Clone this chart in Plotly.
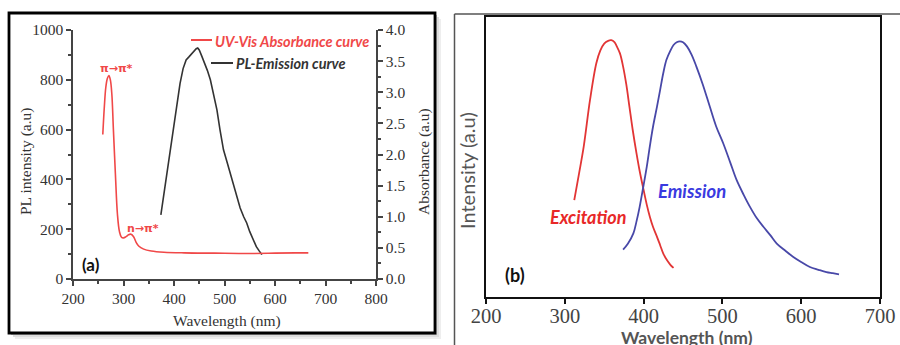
import plotly.graph_objects as go

# ---------------- Panel (a) data ----------------
uv_wl = [259, 262, 265, 268, 271, 274, 277, 280, 284, 288, 292, 296, 300, 305, 310, 315, 320, 325,
         330, 340, 355, 380, 420, 480, 550, 600, 640, 666]
uv_abs = [2.32, 2.76, 3.08, 3.22, 3.27, 3.2, 2.96, 2.4, 1.68, 1.04, 0.76, 0.67, 0.66, 0.68, 0.71,
          0.72, 0.68, 0.59, 0.53, 0.48, 0.45, 0.43, 0.42, 0.415, 0.41, 0.415, 0.42, 0.42]

pl_wl = [374, 380, 386, 392, 399, 405, 412, 418, 424, 430, 435, 440, 444, 447, 450, 455, 460, 466,
         472, 478, 485, 491, 498, 505, 511, 518, 524, 531, 538, 544, 550, 557, 563, 569, 574]
pl_int = [258, 340, 425, 520, 612, 700, 786, 845, 880, 893, 906, 915, 925, 928, 920, 895, 870, 838,
          800, 740, 679, 600, 519, 470, 425, 380, 332, 285, 250, 225, 190, 158, 130, 112, 98]

a_xticks = [200, 300, 400, 500, 600, 700, 800]
a_yticks = [0, 200, 400, 600, 800, 1000]
a_y2ticks = [0.0, 0.5, 1.0, 1.5, 2.0, 2.5, 3.0, 3.5, 4.0]

# ---------------- Panel (b) data ----------------
exc_wl = [312, 318, 324, 332, 340, 345, 350, 355, 359, 363, 366, 370, 374, 378, 382, 386, 391, 395,
          400, 404, 408, 412, 417, 421, 425, 430, 434, 438]
exc_int = [0.346, 0.44, 0.537, 0.704, 0.835, 0.88, 0.905, 0.915, 0.917, 0.91, 0.895, 0.87, 0.823,
           0.76, 0.68, 0.6, 0.513, 0.45, 0.382, 0.33, 0.286, 0.25, 0.215, 0.185, 0.155, 0.13, 0.115, 0.104]

em_wl = [374, 380, 387, 391, 395, 400, 404, 408, 412, 417, 421, 425, 429, 434, 438, 442, 446, 450,
         455, 461, 467, 475, 484, 492, 501, 510, 518, 527, 535, 544, 552, 561, 569, 580, 590, 600,
         611, 622, 632, 640, 648]
em_int = [0.169, 0.19, 0.227, 0.27, 0.322, 0.4, 0.465, 0.54, 0.609, 0.68, 0.74, 0.8, 0.847, 0.88,
          0.9, 0.91, 0.913, 0.91, 0.895, 0.865, 0.823, 0.76, 0.68, 0.61, 0.549, 0.48, 0.418, 0.365,
          0.322, 0.28, 0.251, 0.22, 0.191, 0.165, 0.143, 0.125, 0.107, 0.097, 0.089, 0.085, 0.081]

b_xticks = [200, 300, 400, 500, 600, 700]

W, H = 900, 345
def px(x):
    return x / W
def py(y):
    return 1 - y / H

RED_A = "#f04848"
BLACK_A = "#333333"
RED_B = "#e23535"
BLUE_B = "#4848a8"
SERIF = "Liberation Serif, serif"
SANS = "Lato, Open Sans, sans-serif"
SANS2 = "DejaVu Sans, sans-serif"

fig = go.Figure()

fig.add_trace(go.Scatter(x=pl_wl, y=pl_int, mode="lines", line=dict(color=BLACK_A, width=1.6),
                         xaxis="x", yaxis="y", showlegend=False))
fig.add_trace(go.Scatter(x=uv_wl, y=uv_abs, mode="lines", line=dict(color=RED_A, width=1.6, shape="spline"),
                         xaxis="x", yaxis="y2", showlegend=False))
fig.add_trace(go.Scatter(x=exc_wl, y=exc_int, mode="lines", line=dict(color=RED_B, width=1.8, shape="spline"),
                         xaxis="x3", yaxis="y3", showlegend=False))
fig.add_trace(go.Scatter(x=em_wl, y=em_int, mode="lines", line=dict(color=BLUE_B, width=1.8, shape="spline"),
                         xaxis="x3", yaxis="y3", showlegend=False))

axis_a = dict(showgrid=False, zeroline=False, showline=True, linecolor="#444", linewidth=1.5,
              ticks="outside", ticklen=5, tickwidth=1.5, tickcolor="#444", automargin=False,
              tickfont=dict(family=SERIF, size=15.5, color="#333"))

fig.update_layout(
    width=W, height=H, margin=dict(l=0, r=0, t=0, b=0, autoexpand=False),
    paper_bgcolor="white", plot_bgcolor="rgba(0,0,0,0)",
    xaxis=dict(axis_a, domain=[px(73), px(376)], range=[200, 800], tickvals=a_xticks,
               anchor="y", minor=dict(ticks="outside", ticklen=3, dtick=50, tick0=200, tickcolor="#444")),
    yaxis=dict(axis_a, domain=[py(279), py(30)], range=[0, 1000], tickvals=a_yticks, anchor="x",
               minor=dict(ticks="outside", ticklen=3, dtick=100, tick0=0, tickcolor="#444")),
    yaxis2=dict(axis_a, overlaying="y", side="right", range=[0, 4], tickvals=a_y2ticks,
                ticktext=[f"{v:.1f}" for v in a_y2ticks], anchor="x",
                minor=dict(ticks="outside", ticklen=3, dtick=0.25, tick0=0, tickcolor="#444")),
    xaxis3=dict(domain=[px(486), px(880)], range=[200, 700], tickvals=b_xticks, anchor="y3",
                showgrid=False, zeroline=False, showline=True, mirror=True, linecolor="#111", linewidth=2.2,
                ticks="outside", ticklen=5, tickwidth=1.8, tickcolor="#111", automargin=False,
                ticklabelstandoff=-6,
                tickfont=dict(family=SERIF, size=20.5, color="#444")),
    yaxis3=dict(domain=[py(297), py(17)], range=[0, 1], anchor="x3", showgrid=False, zeroline=False,
                showline=True, mirror=True, linecolor="#111", linewidth=2.2, showticklabels=False, ticks="",
                automargin=False),
)

shapes = []
# shadow of panel (a) frame
for off, col in [(6, "#eeeeee"), (4, "#dddddd"), (2, "#bbbbbb")]:
    shapes.append(dict(type="rect", xref="paper", yref="paper", x0=px(9 + off), x1=px(435 + off),
                       y0=py(333 + off), y1=py(13 + off), line=dict(width=0), fillcolor=col, layer="below"))
shapes.append(dict(type="rect", xref="paper", yref="paper", x0=px(9), x1=px(435), y0=py(333), y1=py(13),
                   line=dict(width=0), fillcolor="white", layer="below"))
shapes.append(dict(type="rect", xref="paper", yref="paper", x0=px(9), x1=px(435), y0=py(333), y1=py(13),
                   line=dict(color="black", width=2.8), fillcolor="rgba(0,0,0,0)", layer="above"))
# panel (b) outer frame lines
shapes.append(dict(type="line", xref="paper", yref="paper", x0=px(454.5), x1=px(454.5), y0=0, y1=py(14),
                   line=dict(color="#555", width=1.5)))
shapes.append(dict(type="line", xref="paper", yref="paper", x0=px(454.5), x1=1, y0=py(14), y1=py(14),
                   line=dict(color="#555", width=1.5)))
# legend line samples panel (a)
shapes.append(dict(type="line", xref="paper", yref="paper", x0=px(191), x1=px(212), y0=py(40), y1=py(40),
                   line=dict(color=RED_A, width=2)))
shapes.append(dict(type="line", xref="paper", yref="paper", x0=px(211), x1=px(233), y0=py(63), y1=py(63),
                   line=dict(color=BLACK_A, width=2)))
fig.update_layout(shapes=shapes)

ann = []
def note(text, x, y, size, color, family=SANS, angle=0, xanchor="center"):
    ann.append(dict(text=text, xref="paper", yref="paper", x=px(x), y=py(y), xanchor=xanchor,
                    yanchor="middle", showarrow=False, textangle=angle,
                    font=dict(family=family, size=size, color=color)))

note("<b><i>UV-Vis Absorbance curve</i></b>", 213, 41, 14.5, RED_A, xanchor="left")
note("<b><i>PL-Emission curve</i></b>", 234, 63, 14.5, BLACK_A, xanchor="left")
note("<b>π→π*</b>", 116, 68, 11, RED_A, family=SANS2)
note("<b>n→π*</b>", 143, 228, 11, RED_A, family=SANS2)
note("<b>(a)</b>", 91, 264, 17, "#111")
note("PL intensity (a.u)", 26, 162, 15.5, "#333", family=SERIF, angle=-90)
note("Absorbance (a.u)", 424, 162, 15.5, "#333", family=SERIF, angle=-90)
note("Wavelength (nm)", 227, 321, 15.5, "#333", family=SERIF)

note("<b>(b)</b>", 515, 275, 18, "#111")
note("<b><i>Excitation</i></b>", 588, 217, 18, "#e82828")
note("<b><i>Emission</i></b>", 692, 191, 18.5, "#3a3ae0")
note("<b>Wavelength (nm)</b>", 687, 337, 17.5, "#555")
note("Intensity (a.u)", 467, 170, 20, "#555", angle=-90)
fig.update_layout(annotations=ann)

fig.write_html("out.html", config={"displayModeBar": False},
               post_script="document.body.style.margin='0px';document.body.style.overflow='hidden';")
